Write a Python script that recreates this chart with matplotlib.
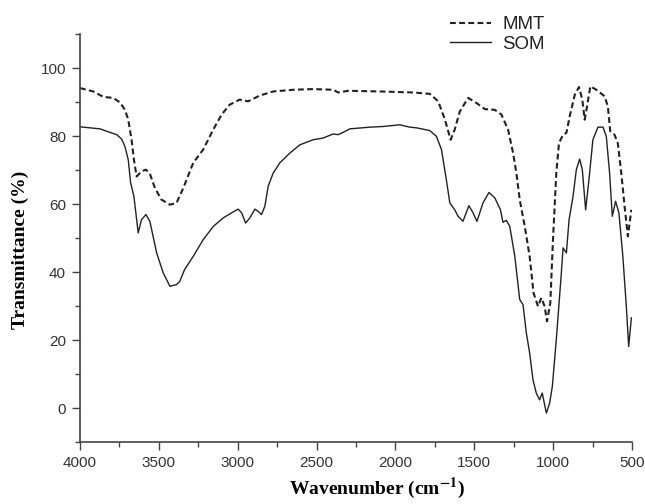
import matplotlib
matplotlib.use("Agg")
import matplotlib.pyplot as plt
from matplotlib.ticker import MultipleLocator

# ---- data ----
som_wn = [4000, 3873, 3831, 3767, 3736, 3715, 3694, 3679, 3658, 3631, 3610, 3582, 3557,
          3514, 3472, 3430, 3388, 3368, 3337, 3282, 3219, 3155, 3092, 3039, 2997, 2975,
          2950, 2923, 2891, 2870, 2849, 2828, 2807, 2775, 2733, 2669, 2606, 2522, 2458,
          2395, 2363, 2330, 2289, 2162, 2078, 1972, 1909, 1866, 1782, 1740, 1708, 1677,
          1655, 1624, 1603, 1572, 1534, 1508, 1483, 1445, 1407, 1370, 1334, 1318, 1297,
          1275, 1243, 1212, 1191, 1170, 1149, 1128, 1107, 1086, 1069, 1043, 1022, 1005,
          980, 948, 937, 916, 899, 874, 853, 832, 815, 794, 773, 748, 716, 684, 663, 642,
          625, 604, 583, 558, 536, 521, 504]
som_t = [82.7, 82.1, 81.4, 80.4, 79.1, 76.9, 73.0, 66.2, 62.2, 51.5, 55.4, 56.9, 54.9,
         45.6, 39.7, 35.8, 36.3, 37.2, 40.7, 44.6, 49.5, 53.4, 55.9, 57.4, 58.5, 57.4,
         54.4, 55.9, 58.5, 57.8, 56.9, 59.3, 65.2, 69.1, 72.1, 75.0, 77.4, 78.9, 79.4,
         80.6, 80.4, 81.1, 82.1, 82.6, 82.8, 83.3, 82.6, 82.4, 81.6, 79.9, 76.0, 67.1,
         60.3, 58.3, 56.4, 54.9, 59.5, 57.4, 54.9, 60.3, 63.4, 61.8, 58.3, 54.6, 55.2,
         53.4, 44.6, 31.9, 30.4, 22.1, 16.2, 8.3, 4.4, 2.4, 4.4, -1.5, 1.5, 6.4,
         20.1, 39.7, 47.1, 45.6, 55.4, 62.2, 70.1, 73.2, 70.1, 58.3, 67.1, 78.9, 82.6, 82.6, 79.9, 69.1,
         56.4, 60.8, 57.4, 44.6, 29.9, 18.1, 26.5]

mmt_wn = [4000, 3916, 3852, 3789, 3747, 3715, 3694, 3673, 3658, 3641, 3610, 3582, 3557,
          3525, 3484, 3430, 3388, 3345, 3282, 3219, 3155, 3102, 3051, 2988, 2934, 2860,
          2775, 2648, 2522, 2395, 2363, 2300, 2099, 1888, 1782, 1729, 1686, 1650, 1624,
          1592, 1539, 1486, 1433, 1370, 1328, 1286, 1254, 1233, 1212, 1180, 1149, 1124,
          1096, 1075, 1054, 1039, 1018, 1001, 980, 963, 937, 916, 895, 863, 836, 815,
          800, 785, 764, 726, 674, 653, 638, 611, 590, 568, 547, 526, 504]
mmt_t = [94.1, 93.1, 91.5, 91.2, 89.9, 87.7, 84.8, 78.9, 73.0, 68.1, 69.6, 70.1, 68.9,
         64.7, 61.3, 59.8, 60.3, 64.7, 72.1, 76.0, 81.9, 86.3, 89.2, 90.7, 90.2, 91.9,
         93.1, 93.6, 93.8, 93.6, 92.8, 93.3, 93.1, 92.8, 92.4, 90.2, 84.8, 78.9, 81.9,
         87.2, 91.2, 89.7, 87.9, 87.7, 86.3, 81.9, 75.0, 69.1, 61.3, 53.4, 44.6, 33.8,
         29.9, 32.4, 29.9, 25.5, 30.9, 49.5, 69.1, 77.9, 80.4, 80.9, 85.8, 92.1, 94.4, 90.7,
         84.8, 88.7, 94.6, 93.6, 91.7, 88.7, 81.4, 80.4, 77.9, 69.1, 59.3, 50.5, 58.3]

series_labels = ["MMT", "SOM"]
x_ticks = [4000, 3500, 3000, 2500, 2000, 1500, 1000, 500]
y_ticks = [0, 20, 40, 60, 80, 100]

plt.rcParams["mathtext.fontset"] = "stix"

fig = plt.figure(figsize=(6.45, 5.04), dpi=100)
ax = fig.add_axes([80 / 645, (504 - 442) / 504, 552 / 645, 408 / 504])

ink = "#222222"
ax.plot(mmt_wn, mmt_t, color=ink, lw=1.5, linestyle=(0, (2.8, 1.6)), label=series_labels[0])
ax.plot(som_wn, som_t, color=ink, lw=1.0, label=series_labels[1])

ax.set_xlim(4000, 500)
ax.set_ylim(-10, 110)
ax.set_xticks(x_ticks)
ax.set_yticks(y_ticks)
ax.xaxis.set_minor_locator(MultipleLocator(250))
ax.yaxis.set_minor_locator(MultipleLocator(10))

for s in ["top", "right"]:
    ax.spines[s].set_visible(False)
for s in ["left", "bottom"]:
    ax.spines[s].set_color("#444444")
    ax.spines[s].set_linewidth(1.2)

ax.tick_params(which="major", direction="out", length=6, width=1.0, color="#444444",
               labelsize=11, labelcolor="#333333", pad=4)
ax.tick_params(which="minor", direction="out", length=3.3, width=1.0, color="#444444")
for lab in ax.get_xticklabels() + ax.get_yticklabels():
    lab.set_fontfamily("Liberation Sans")

ax.set_xlabel(r"Wavenumber (cm$^{\mathbf{-1}}$)", fontfamily="Liberation Serif",
              fontweight="bold", fontsize=14)
ax.set_ylabel("Transmittance (%)", fontfamily="Liberation Serif",
              fontweight="bold", fontsize=14)
ax.xaxis.set_label_coords(0.538, -0.084)
ax.yaxis.set_label_coords(-0.092, 0.47)

leg = ax.legend(loc="upper left", bbox_to_anchor=(450 / 645, 1 - 16 / 504),
                bbox_transform=fig.transFigure, frameon=False,
                prop={"family": "Liberation Sans", "size": 13.4},
                handlelength=2.2, handletextpad=0.6, labelspacing=0.15,
                borderpad=0, borderaxespad=0)
for t in leg.get_texts():
    t.set_color("#222222")

fig.savefig("out.png", dpi=100)
